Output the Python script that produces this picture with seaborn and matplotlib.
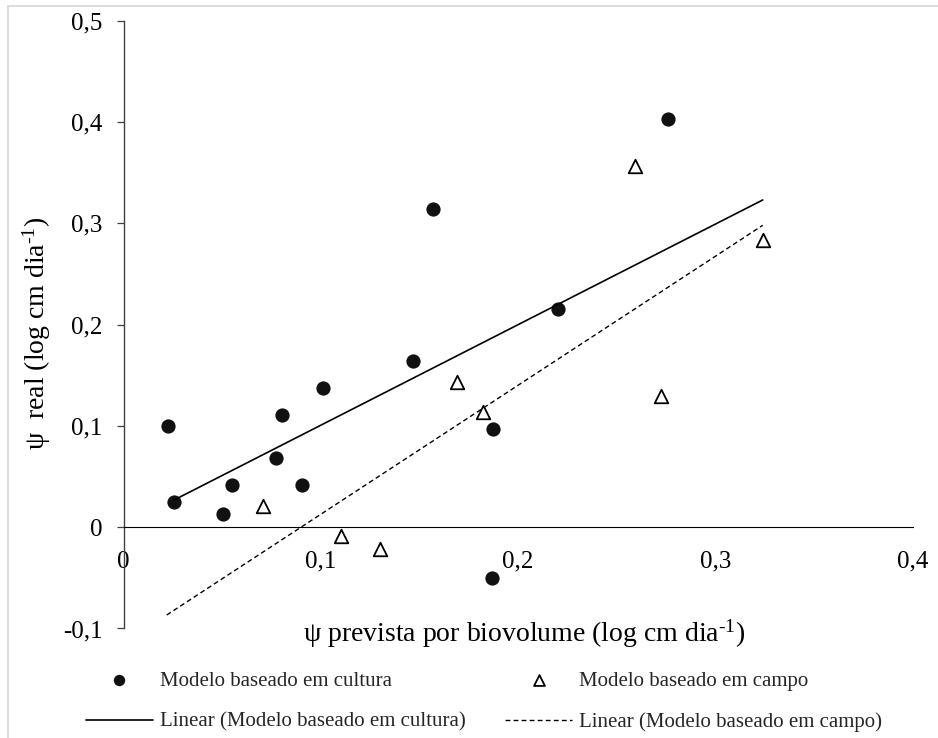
import matplotlib
matplotlib.use("Agg")
import matplotlib.pyplot as plt
from matplotlib.lines import Line2D
import seaborn as sns
import pandas as pd

# ---- data ----
cult_x = [0.0224, 0.0256, 0.0503, 0.0548, 0.0773, 0.0805, 0.0903, 0.1011, 0.1469, 0.1570, 0.1871, 0.1866, 0.2204, 0.2761]
cult_y = [0.1002, 0.0252, 0.0130, 0.0417, 0.0686, 0.1108, 0.0417, 0.1370, 0.1644, 0.3138, 0.0970, -0.0498, 0.2150, 0.4030]

campo_x = [0.0705, 0.1100, 0.1300, 0.1692, 0.1820, 0.2593, 0.2724, 0.3240]
campo_y = [0.0210, -0.0087, -0.0220, 0.1430, 0.1134, 0.3570, 0.1295, 0.2830]

trend_cult_x = [0.0256, 0.3240]
trend_cult_y = [0.0268, 0.3230]
trend_campo_x = [0.0219, 0.3240]
trend_campo_y = [-0.0867, 0.2980]

xticks = [0.0, 0.1, 0.2, 0.3, 0.4]
xtick_labels = ["0", "0,1", "0,2", "0,3", "0,4"]
yticks = [-0.1, 0.0, 0.1, 0.2, 0.3, 0.4, 0.5]
ytick_labels = ["-0,1", "0", "0,1", "0,2", "0,3", "0,4", "0,5"]

lab_cult = "Modelo baseado em cultura"
lab_campo = "Modelo baseado em campo"
lab_lin_cult = "Linear (Modelo baseado em cultura)"
lab_lin_campo = "Linear (Modelo baseado em campo)"
xlabel = "ψ prevista por biovolume (log cm dia$^{\\text{-}1}$)"
ylabel = "ψ  real (log cm dia$^{\\text{-}1}$)"

# ---- style ----
sns.set_theme(style="white")
plt.rcParams["font.family"] = ["Liberation Serif", "DejaVu Serif"]
plt.rcParams["mathtext.fontset"] = "custom"
plt.rcParams["mathtext.rm"] = "Liberation Serif"
plt.rcParams["mathtext.it"] = "Liberation Serif:italic"
plt.rcParams["mathtext.default"] = "rm"
plt.rcParams["axes.unicode_minus"] = False

fig = plt.figure(figsize=(9.38, 7.38), dpi=100)
ax = fig.add_axes([0.1317, 0.1484, 0.8413, 0.8236])

df_cult = pd.DataFrame({"x": cult_x, "y": cult_y})
df_campo = pd.DataFrame({"x": campo_x, "y": campo_y})
df_tc = pd.DataFrame({"x": trend_cult_x, "y": trend_cult_y})
df_tp = pd.DataFrame({"x": trend_campo_x, "y": trend_campo_y})

sns.scatterplot(data=df_cult, x="x", y="y", ax=ax, marker="o", s=105,
                color="#111111", edgecolor="#111111", linewidth=0, label=lab_cult, zorder=3)
sns.scatterplot(data=df_campo, x="x", y="y", ax=ax, marker="^", s=95,
                facecolor="white", edgecolor="black", linewidth=1.3, label=lab_campo, zorder=3)
sns.lineplot(data=df_tc, x="x", y="y", ax=ax, color="black", linewidth=1.2,
             label=lab_lin_cult, zorder=4)
sns.lineplot(data=df_tp, x="x", y="y", ax=ax, color="black", linewidth=1.0,
             linestyle=(0, (3.5, 2.3)), label=lab_lin_campo, zorder=4)

ax.set_xlim(0, 0.4)
ax.set_ylim(-0.1, 0.5)
ax.set_xticks(xticks)
ax.set_xticklabels(xtick_labels)
ax.set_yticks(yticks)
ax.set_yticklabels(ytick_labels)

for s in ["top", "right"]:
    ax.spines[s].set_visible(False)
ax.spines["bottom"].set_position(("data", 0))
ax.spines["bottom"].set_color("black")
ax.spines["bottom"].set_linewidth(0.8)
ax.spines["left"].set_color("#404040")
ax.spines["left"].set_linewidth(1.0)

ax.tick_params(axis="x", bottom=True, length=0, pad=17, labelsize=18, colors="black")
ax.tick_params(axis="y", left=True, direction="out", length=5, width=0.9, color="#404040",
               pad=10, labelsize=18, labelcolor="black")
ax.set_facecolor("white")

ax.set_xlabel(xlabel, fontsize=20, color="black")
ax.set_ylabel(ylabel, fontsize=20, color="black")
ax.xaxis.set_label_coords(0.5075, 0.0173)
ax.yaxis.set_label_coords(-0.090, 0.486)

handles, labels = ax.get_legend_handles_labels()
order = [labels.index(l) for l in [lab_cult, lab_lin_cult, lab_campo, lab_lin_campo]]
leg = ax.legend([handles[i] for i in order], [labels[i] for i in order],
                ncol=2, frameon=False, loc="upper left",
                bbox_to_anchor=(86 / 938, 1 - 671 / 738), bbox_transform=fig.transFigure,
                fontsize=15, handlelength=3.2, handletextpad=0.35, columnspacing=1.9,
                labelspacing=1.04, borderpad=0, borderaxespad=0, markerscale=0.8)

# light gray chart border (top and left)
fig.add_artist(Line2D([7.5 / 938, 7.5 / 938], [0, 1 - 5.7 / 738], transform=fig.transFigure,
                      color="#d9d9d9", linewidth=1.3))
fig.add_artist(Line2D([7.5 / 938, 1], [1 - 5.7 / 738, 1 - 5.7 / 738], transform=fig.transFigure,
                      color="#d9d9d9", linewidth=1.3))

fig.savefig("out.png", dpi=100, facecolor="white")
